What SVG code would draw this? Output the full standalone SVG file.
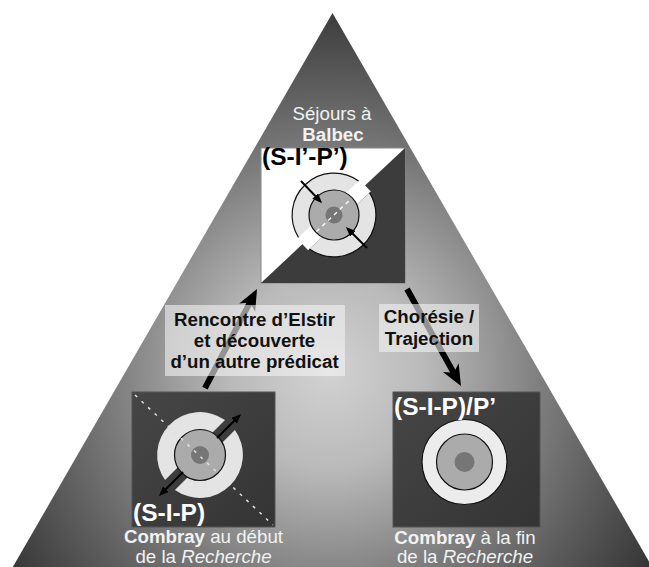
<svg xmlns="http://www.w3.org/2000/svg" width="649" height="567" viewBox="0 0 649 567">
  <defs>
    <radialGradient id="bg" gradientUnits="userSpaceOnUse" cx="328" cy="372" r="395">
      <stop offset="0" stop-color="#d2d2d2"/>
      <stop offset="0.25" stop-color="#b9b9b9"/>
      <stop offset="0.55" stop-color="#7c7c7c"/>
      <stop offset="0.85" stop-color="#474747"/>
      <stop offset="1" stop-color="#2c2c2c"/>
    </radialGradient>
    <linearGradient id="boxfill" x1="0" y1="0" x2="1" y2="1">
      <stop offset="0" stop-color="#464646"/>
      <stop offset="1" stop-color="#343434"/>
    </linearGradient>
    <marker id="tip" markerUnits="userSpaceOnUse" markerWidth="10" markerHeight="8" viewBox="0 0 10 8" refX="7" refY="4" orient="auto">
      <path d="M0,0 L10,4 L0,8 Z" fill="#000"/>
    </marker>
  </defs>
  <style>
    text { font-family: "Liberation Sans", Arial, Helvetica, sans-serif; }
    .cap { fill: #f2f2f2; font-size: 18.7px; text-anchor: middle; }
    .lbl { fill: #111; font-size: 18.7px; font-weight: bold; text-anchor: middle; }
    .code { font-size: 24.5px; font-weight: bold; }
    .ring { fill: #e4e4e4; }
    .mid { fill: #ababab; stroke: #111; stroke-width: 1.2; }
    .dot { fill: #767676; }
    .edge { fill: none; stroke: #111; stroke-width: 1.2; }
    .small { stroke: #000; stroke-width: 2; marker-end: url(#tip); }
    .big { fill: #000; }
    .tag { fill: #f4f4f4; fill-opacity: 0.6; }
  </style>

  <!-- background pyramid -->
  <polygon points="332.5,13 12.8,567 652.2,567" fill="url(#bg)"/>

  <!-- summit caption -->
  <g id="caption-balbec">
    <text class="cap" x="332" y="120">Séjours à</text>
    <text class="cap" x="333" y="141" font-weight="bold">Balbec</text>
  </g>

  <!-- node: Balbec (S-I'-P') -->
  <g id="node-balbec">
    <rect x="261" y="148" width="144" height="135" fill="#fff" stroke="#888" stroke-width="1"/>
    <polygon points="405,148 405,283 261,283" fill="#3c3c3c"/>
    <g transform="translate(334,215) rotate(-43.15)">
      <rect x="-43" y="-8" width="86" height="16" fill="#fff"/>
      <path class="ring" d="M-41.2,-8 A42,42 0 0 1 41.2,-8 L23.7,-8 A25,25 0 0 0 -23.7,-8 Z"/>
      <path class="edge" d="M-41.2,-8 A42,42 0 0 1 41.2,-8"/>
      <path class="ring" d="M41.2,8 A42,42 0 0 1 -41.2,8 L-23.7,8 A25,25 0 0 0 23.7,8 Z"/>
      <path class="edge" d="M41.2,8 A42,42 0 0 1 -41.2,8"/>
      <circle class="mid" r="25"/>
      <circle class="dot" r="8.5"/>
      <line x1="-24" y1="0" x2="24" y2="0" stroke="#fff" stroke-width="1.3" stroke-dasharray="4 4"/>
    </g>
    <line class="small" x1="301" y1="181" x2="320" y2="201"/>
    <line class="small" x1="367" y1="248" x2="348" y2="229"/>
    <text class="code" x="262" y="165" fill="#000">(S-I’-P’)</text>
  </g>

  <!-- node: Combray at the start (S-I-P) -->
  <g id="node-combray-debut">
    <rect x="132" y="392" width="143" height="135" fill="url(#boxfill)" stroke="#555" stroke-width="1"/>
    <g transform="translate(200,455) rotate(-45)">
      <path class="ring" d="M-42.4,-7 A43,43 0 0 1 42.4,-7 L24,-7 A25,25 0 0 0 -24,-7 Z"/>
      <path class="ring" d="M42.4,7 A43,43 0 0 1 -42.4,7 L-24,7 A25,25 0 0 0 24,7 Z"/>
      <circle class="mid" r="25.5"/>
      <circle class="dot" r="9"/>
    </g>
    <line x1="135" y1="395" x2="273" y2="525" stroke="#e0e0e0" stroke-width="1.5" stroke-dasharray="3 6"/>
    <line class="small" x1="217" y1="438" x2="239" y2="416"/>
    <line class="small" x1="183" y1="472" x2="161" y2="494"/>
    <text class="code" x="133" y="521" fill="#fff">(S-I-P)</text>
  </g>

  <!-- node: Combray at the end (S-I-P)/P' -->
  <g id="node-combray-fin">
    <rect x="393" y="392" width="147" height="135" fill="url(#boxfill)" stroke="#555" stroke-width="1"/>
    <circle cx="464.5" cy="462" r="42.5" fill="#ececec" stroke="#111" stroke-width="1.2"/>
    <circle class="mid" cx="464.5" cy="462" r="28"/>
    <circle class="dot" cx="464.5" cy="462" r="10"/>
    <text class="code" x="394" y="415" fill="#fff">(S-I-P)/P’</text>
  </g>

  <!-- captions under the lower nodes -->
  <g id="caption-debut">
    <text class="cap" x="203.5" y="543"><tspan font-weight="bold">Combray</tspan> au début</text>
    <text class="cap" x="203.5" y="563">de la <tspan font-style="italic">Recherche</tspan></text>
  </g>
  <g id="caption-fin">
    <text class="cap" x="465" y="544"><tspan font-weight="bold">Combray</tspan> à la fin</text>
    <text class="cap" x="465" y="563">de la <tspan font-style="italic">Recherche</tspan></text>
  </g>

  <!-- connectors -->
  <g id="connectors">
    <path class="big" transform="translate(257,289) rotate(-62.3)" d="M0,0 L-21,-9 L-17,-3 L-112,-3 L-112,3 L-17,3 L-21,9 Z"/>
    <path class="big" transform="translate(461,386) rotate(60.9)" d="M0,0 L-21,-9 L-17,-3 L-111,-3 L-111,3 L-17,3 L-21,9 Z"/>
  </g>

  <!-- connector labels -->
  <g id="label-elstir">
    <rect class="tag" x="165" y="305" width="180" height="71"/>
    <text class="lbl" x="254.5" y="326">Rencontre d’Elstir</text>
    <text class="lbl" x="254.5" y="347">et découverte</text>
    <text class="lbl" x="254.5" y="368">d’un autre prédicat</text>
  </g>
  <g id="label-choresie">
    <rect class="tag" x="379" y="304" width="100" height="48"/>
    <text class="lbl" x="429" y="323">Chorésie /</text>
    <text class="lbl" x="429" y="345">Trajection</text>
  </g>
</svg>
